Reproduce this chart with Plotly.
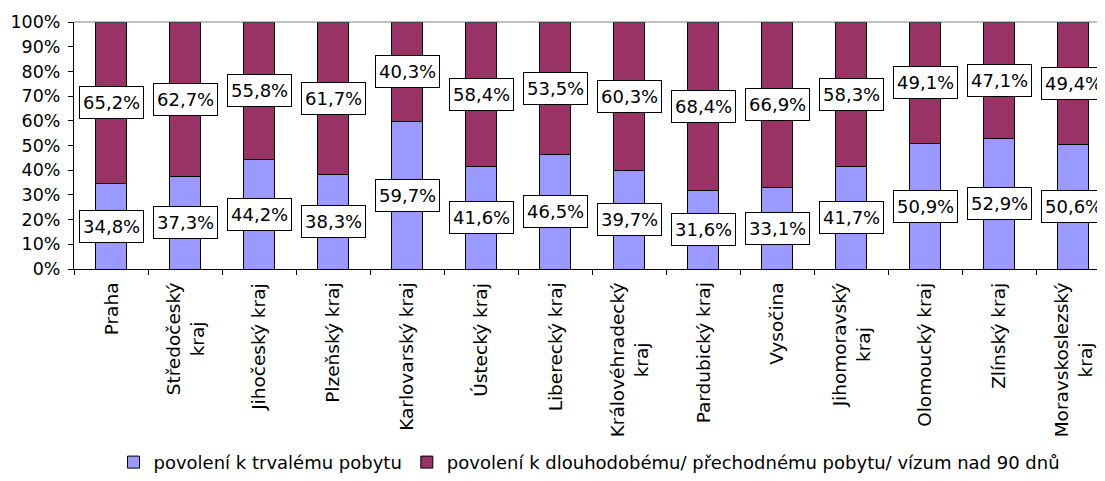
import plotly.graph_objects as go

categories = ["Praha", "Středočeský<br>kraj", "Jihočeský kraj", "Plzeňský kraj",
              "Karlovarský kraj", "Ústecký kraj", "Liberecký kraj",
              "Královéhradecký<br>kraj", "Pardubický kraj", "Vysočina",
              "Jihomoravský<br>kraj", "Olomoucký kraj", "Zlínský kraj",
              "Moravskoslezský<br>kraj"]
trvaly = [34.8, 37.3, 44.2, 38.3, 59.7, 41.6, 46.5, 39.7, 31.6, 33.1, 41.7, 50.9, 52.9, 50.6]
dlouhodoby = [65.2, 62.7, 55.8, 61.7, 40.3, 58.4, 53.5, 60.3, 68.4, 66.9, 58.3, 49.1, 47.1, 49.4]
series_names = ["povolení k trvalému pobytu",
                "povolení k dlouhodobému/ přechodnému pobytu/ vízum nad 90 dnů"]
y_ticks = list(range(0, 101, 10))

FONT = "Verdana, DejaVu Sans, sans-serif"
x_idx = list(range(len(categories)))

fig = go.Figure()
fig.add_trace(go.Bar(x=x_idx, y=trvaly, name=series_names[0],
                     marker=dict(color="#9999FF", line=dict(color="#000000", width=1))))
fig.add_trace(go.Bar(x=x_idx, y=dlouhodoby, name=series_names[1],
                     marker=dict(color="#993366", line=dict(color="#000000", width=1))))

def fmt(v):
    return f"{v:.1f}".replace(".", ",") + "%"

annotations = []
for i, (a, b) in enumerate(zip(trvaly, dlouhodoby)):
    for val, yc in ((a, a / 2), (b, a + b / 2)):
        annotations.append(dict(
            x=i, y=yc, xref="x", yref="y", text=fmt(val), showarrow=False,
            font=dict(family=FONT, size=18, color="#000000"),
            bgcolor="#FFFFFF", bordercolor="#000000", borderwidth=1, borderpad=3,
            height=25, valign="middle",
            xanchor="center", yanchor="middle"))
for i, c in enumerate(categories):
    annotations.append(dict(
        x=i, y=-0.048, xref="x", yref="paper", text=c, showarrow=False,
        textangle=-90, align="center", xanchor="center", yanchor="top",
        font=dict(family=FONT, size=18.5, color="#000000")))

fig.update_layout(
    barmode="stack",
    bargap=0.59,
    width=1097, height=473,
    margin=dict(l=66, r=0, t=14, b=210),
    paper_bgcolor="#FFFFFF", plot_bgcolor="#FFFFFF",
    font=dict(family=FONT, color="#000000"),
    showlegend=True,
    legend=dict(orientation="h", x=0.5, xanchor="center", y=-0.783, yanchor="middle",
                font=dict(family=FONT, size=18, color="#000000"),
                itemwidth=30, traceorder="normal"),
    annotations=annotations,
    shapes=[dict(type="line", xref="paper", yref="paper", x0=0, x1=1, y0=1, y1=1,
                 line=dict(color="#808080", width=1))],
)
fig.update_xaxes(
    range=[-0.5, -0.5 + 1031 / 74],
    tickmode="array", tickvals=[i + 0.5 for i in range(-1, len(categories))],
    showticklabels=False, ticks="outside", ticklen=5, tickcolor="#000000",
    showline=True, linecolor="#000000", linewidth=1, showgrid=False, zeroline=False,
    fixedrange=True)
fig.update_yaxes(
    range=[0, 100], tickmode="array", tickvals=y_ticks,
    ticktext=[f"{t}%" for t in y_ticks],
    ticks="outside", ticklen=5, tickcolor="#000000", ticklabelstandoff=4,
    tickfont=dict(family=FONT, size=17.5, color="#000000"),
    showline=True, linecolor="#000000", linewidth=1, showgrid=False, zeroline=False)

fig.write_html("out.html")
